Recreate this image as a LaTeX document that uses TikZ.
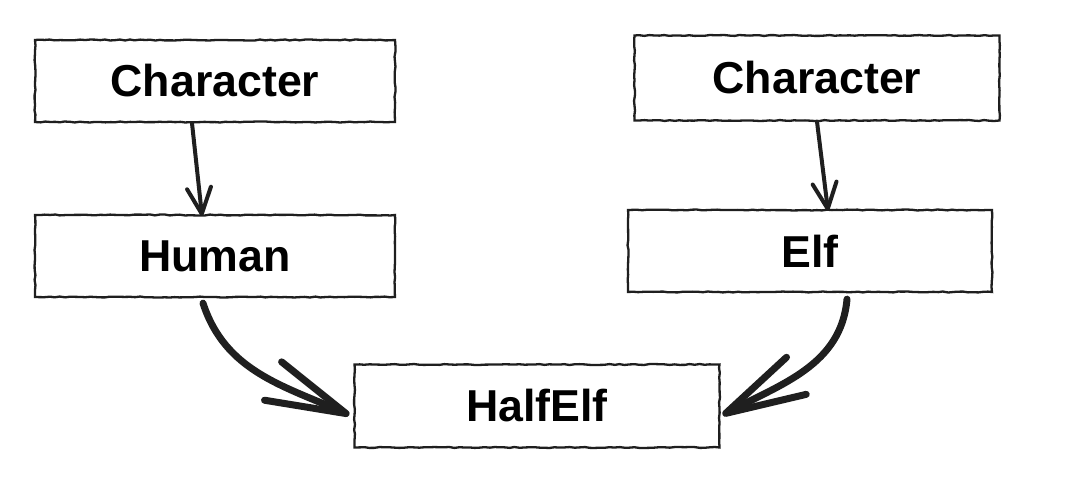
\documentclass[tikz,border=0pt]{standalone}
\usepackage{fontspec}
\setmainfont{Liberation Sans}
\usetikzlibrary{arrows.meta,decorations.pathmorphing}

\begin{document}
\begin{tikzpicture}[x=1pt,y=1pt,
    classbox/.style={draw=black!88, line width=2.3pt,
        decorate, decoration={random steps, segment length=5pt, amplitude=0.5pt},
        minimum width=360pt, minimum height=82pt, inner sep=0pt,
        font=\fontsize{44.7}{50}\selectfont\bfseries},
    inherit/.style={draw=black!88, line width=4pt, line cap=round,
        -{Straight Barb[round, length=26pt, width=24pt, line width=4pt]}},
    mergearrow/.style={draw=black!88, line width=7pt, line cap=round,
        -{Straight Barb[round, length=80pt, width=42pt, line width=7pt]}}]
    \useasboundingbox (0,0) rectangle (1081,488);
    \node[classbox] (charL) at (215,407) {Character};
    \node[classbox] (human) at (215,232) {Human};
    \node[classbox, minimum width=365pt, minimum height=85pt] (charR) at (817,410) {Character};
    \node[classbox, minimum width=364pt] (elf) at (810,237) {Elf};
    \node[classbox, minimum width=365pt, minimum height=83pt] (halfelf) at (537,82) {HalfElf};
    % straight inheritance arrows
    \draw[inherit] ([xshift=-23pt]charL.south) -- ([xshift=-13pt,yshift=-2pt]human.north);
    \draw[inherit] (charR.south) -- ([xshift=18pt,yshift=-2pt]elf.north);
    % curved ones into HalfElf
    \draw[mergearrow] ([xshift=-12pt,yshift=-5pt]human.south) to[out=-72,in=156] ([xshift=-4pt,yshift=-9pt]halfelf.west);
    \draw[mergearrow] ([xshift=37pt,yshift=-6pt]elf.south) to[out=-95,in=28] ([xshift=2pt,yshift=-9pt]halfelf.east);
\end{tikzpicture}
\end{document}
